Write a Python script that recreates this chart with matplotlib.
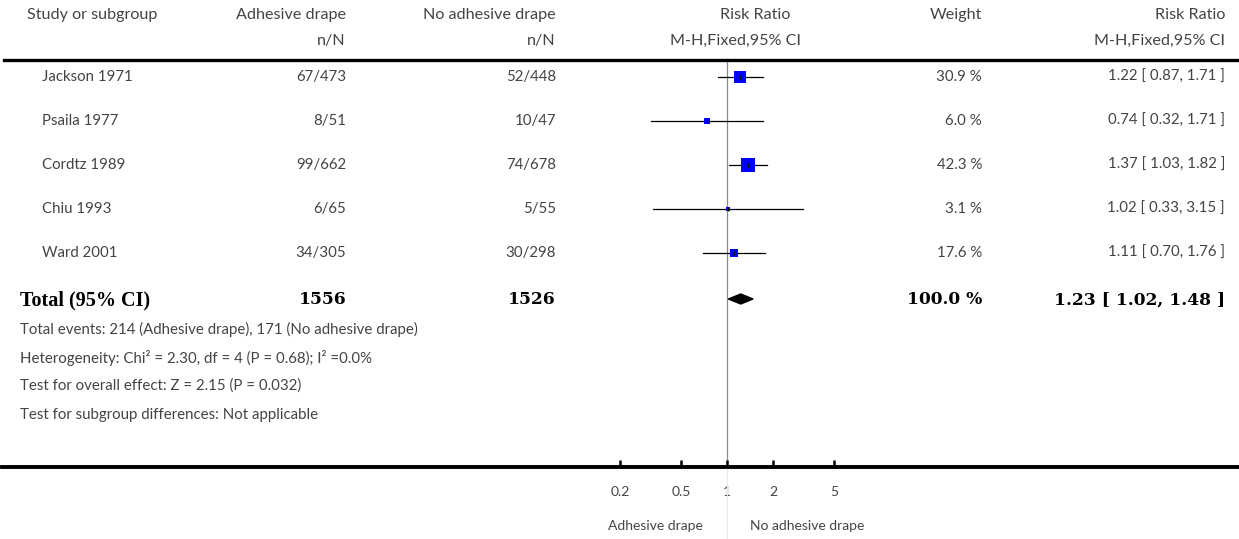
import matplotlib
matplotlib.use("Agg")
import matplotlib.pyplot as plt
from matplotlib.lines import Line2D
from matplotlib.patches import Polygon

# data
studies = ["Jackson 1971", "Psaila 1977", "Cordtz 1989", "Chiu 1993", "Ward 2001"]
events_adh = [67, 8, 99, 6, 34]
n_adh = [473, 51, 662, 65, 305]
events_no = [52, 10, 74, 5, 30]
n_no = [448, 47, 678, 55, 298]
weights = [30.9, 6.0, 42.3, 3.1, 17.6]
rr = [1.22, 0.74, 1.37, 1.02, 1.11]
rr_lo = [0.87, 0.32, 1.03, 0.33, 0.70]
rr_hi = [1.71, 1.71, 1.82, 3.15, 1.76]

total_adh = 1556
total_no = 1526
total_weight = 100.0
total_rr, total_lo, total_hi = 1.23, 1.02, 1.48

footer = ["Total events: 214 (Adhesive drape), 171 (No adhesive drape)",
          "Heterogeneity: Chi\u00b2 = 2.30, df = 4 (P = 0.68); I\u00b2 =0.0%",
          "Test for overall effect: Z = 2.15 (P = 0.032)",
          "Test for subgroup differences: Not applicable"]

ticks = [0.2, 0.5, 1, 2, 5]
tick_labels = ["0.2", "0.5", "1", "2", "5"]

W, H = 1239, 539
fig = plt.figure(figsize=(W / 100, H / 100), dpi=100)

sans = "Lato"
grey = "#444444"
fs = 10.8       # body text
fsh = 11.6      # header text

def fx(x):
    return x / W

def fy(y):
    return 1 - y / H

def txt(x, y, s, ha="left", size=fs):
    fig.text(fx(x), fy(y), s, ha=ha, va="center", fontsize=size, family=sans, color=grey)

def btxt(x, y, s, ha="left", word=False):
    # bold total row: serif words, wide serif digits
    if word:
        fig.text(fx(x), fy(y), s, ha=ha, va="center", fontsize=14.5,
                 family="Liberation Serif", fontweight="bold", color="black")
    else:
        fig.text(fx(x), fy(y), s, ha=ha, va="center", fontsize=12.3,
                 family="DejaVu Serif", fontweight="bold", color="black")

# header
txt(27, 15, "Study or subgroup", size=fsh)
txt(346, 15, "Adhesive drape", ha="right", size=fsh)
txt(556, 15, "No adhesive drape", ha="right", size=fsh)
txt(755, 15, "Risk Ratio", ha="center", size=fsh)
txt(982, 15, "Weight", ha="right", size=fsh)
txt(1225, 15, "Risk Ratio", ha="right", size=fsh)
txt(346, 41, "n/N", ha="right", size=fsh)
txt(556, 41, "n/N", ha="right", size=fsh)
txt(736, 41, "M-H,Fixed,95% CI", ha="center", size=fsh)
txt(1225, 41, "M-H,Fixed,95% CI", ha="right", size=fsh)

row0, step = 77, 44
for i, name in enumerate(studies):
    y = row0 + step * i
    txt(42, y, name)
    txt(346, y, f"{events_adh[i]}/{n_adh[i]}", ha="right")
    txt(556, y, f"{events_no[i]}/{n_no[i]}", ha="right")
    txt(982, y, f"{weights[i]:.1f} %", ha="right")
    txt(1225, y, f"{rr[i]:.2f} [ {rr_lo[i]:.2f}, {rr_hi[i]:.2f} ]", ha="right")

ytot = row0 + step * len(studies) + 3
btxt(20, ytot, "Total (95% CI)", word=True)
btxt(347, ytot, str(total_adh), ha="right")
btxt(556, ytot, str(total_no), ha="right")
btxt(982, ytot, f"{total_weight:.1f} %", ha="right")
btxt(1225, ytot, f"{total_rr:.2f} [ {total_lo:.2f}, {total_hi:.2f} ]", ha="right")

for k, line in enumerate(footer):
    txt(20, 329 + 28.5 * k, line)

# forest panel: log axis 0.1..10 between x=574 and x=880
top, bottom = 60, 467
ax = fig.add_axes([fx(574), fy(bottom), fx(880) - fx(574), (bottom - top) / H])
ax.set_xscale("log")
ax.set_xlim(0.1, 10)
ax.set_ylim((bottom - row0) / step, -(row0 - top) / step)
ax.patch.set_alpha(0)
for sp in ax.spines.values():
    sp.set_visible(False)

ax.axvline(1, color="#8a8a8a", lw=0.9, zorder=1)
for i in range(len(studies)):
    ax.plot([rr_lo[i], rr_hi[i]], [i, i], color="black", lw=0.9, zorder=2)
    side = 1.3 + 1.8 * weights[i] ** 0.5
    ax.plot(rr[i], i, marker="s", color="#0000ff", markersize=side * 0.72, mew=0, zorder=3)
    ax.plot(rr[i], i, marker="|", color="black", markersize=3, mew=0.8, zorder=4)

it = len(studies) + 2 / step
hd = 5 / step
ax.add_patch(Polygon([(total_lo, it), (total_rr, it - hd), (total_hi, it), (total_rr, it + hd)],
                     closed=True, color="black", zorder=3))

ax.set_yticks([])
ax.set_xticks(ticks)
ax.set_xticklabels(tick_labels, fontsize=10, family=sans, color=grey)
ax.xaxis.set_minor_locator(matplotlib.ticker.NullLocator())
ax.tick_params(axis="x", direction="in", length=5, width=1.8, color="black", pad=14)

# full-width rules
fig.add_artist(Line2D([fx(4), 1], [fy(60), fy(60)], transform=fig.transFigure, color="black", lw=2.4))
fig.add_artist(Line2D([fx(2), 1], [fy(467), fy(467)], transform=fig.transFigure, color="black", lw=2.8))
# faint continuation of the no-effect line
xline = ax.transData.transform((1, 0))[0] / fig.dpi / fig.get_figwidth()
fig.add_artist(Line2D([xline, xline], [0, fy(469)], transform=fig.transFigure, color="#e8e8e8", lw=0.8))

txt(703, 526, "Adhesive drape", ha="right", size=10)
txt(750, 526, "No adhesive drape", size=10)

fig.savefig("out.png", dpi=100)
